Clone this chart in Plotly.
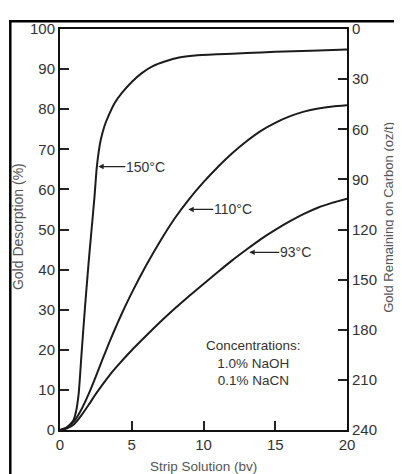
import plotly.graph_objects as go

# ---- data ----
x_150 = [0, 0.35, 0.7, 0.93, 1.1, 1.3, 1.5, 1.75, 2.0, 2.2, 2.4, 2.55, 2.7, 2.85, 3.1, 3.4, 3.8, 4.3, 5.0, 5.7, 6.5, 7.3, 8.3, 9.4, 11, 13, 15, 17.5, 20]
y_150 = [0, 0.3, 1.4, 2.4, 4.3, 9, 19, 31, 42, 50, 58, 65, 69.5, 72.5, 75.8, 78.5, 81.5, 84, 86.8, 89, 90.8, 91.9, 92.9, 93.4, 93.7, 94.0, 94.3, 94.6, 94.9]

x_110 = [0, 0.5, 1.0, 1.5, 2.0, 2.5, 3.0, 3.5, 4.0, 4.5, 5.0, 6.0, 7.0, 8.0, 9.0, 10, 11, 12, 13, 14, 15, 16, 17, 18, 19, 20]
y_110 = [0, 0.7, 2.3, 5.2, 9, 13.4, 18, 22.4, 26.6, 30.5, 34.2, 41, 47.2, 52.8, 57.6, 61.8, 65.6, 69, 72, 74.6, 76.6, 78.2, 79.4, 80.2, 80.7, 81.0]

x_93 = [0, 0.5, 1.0, 1.5, 2.0, 2.5, 3.0, 3.5, 4.0, 5.0, 6.0, 7.0, 8.0, 9.0, 10, 11, 12, 13, 14, 15, 16, 17, 18, 19, 20]
y_93 = [0, 0.4, 1.5, 3.7, 6.3, 9.0, 11.5, 13.9, 16.0, 19.9, 23.5, 27.0, 30.3, 33.4, 36.4, 39.4, 42.3, 45.0, 47.6, 49.9, 52.0, 53.9, 55.5, 56.7, 57.7]

series_names = ["150°C", "110°C", "93°C"]
label_points = [(2.67, 65.7), (8.94, 55.0), (13.19, 44.3)]

x_ticks = [0, 5, 10, 15, 20]
y_ticks = [0, 10, 20, 30, 40, 50, 60, 70, 80, 90, 100]
y2_ticks = [0, 30, 60, 90, 120, 150, 180, 210, 240]

FONT = "Liberation Sans, Arial, sans-serif"
LINE = "#1c1c1c"

fig = go.Figure()
for xs, ys, nm in [(x_150, y_150, series_names[0]), (x_110, y_110, series_names[1]), (x_93, y_93, series_names[2])]:
    fig.add_trace(go.Scatter(x=xs, y=ys, mode="lines", name=nm,
                             line=dict(color=LINE, width=2, shape="spline", smoothing=0.5),
                             showlegend=False, hoverinfo="skip"))
# empty trace so the right-hand axis is drawn
fig.add_trace(go.Scatter(x=[], y=[], yaxis="y2", mode="lines", showlegend=False, hoverinfo="skip"))

# page body adds an 8px offset; work in viewport pixels and convert
OFF = 8
VW, VH = 402, 474
W, H = VW - OFF, VH - OFF
PL, PR, PT, PB = 60, 347, 20, 430      # plot area in viewport pixels
L, R, T, B = PL - OFF, W - (PR - OFF), PT - OFF, H - (PB - OFF)
pw, ph = PR - PL, PB - PT

def px(xp):
    return (xp - PL) / pw

def py(yp):
    return (PB - yp) / ph

axis_common = dict(ticks="inside", ticklen=9, tickwidth=1.5, tickcolor="#222",
                   showline=True, linewidth=2, linecolor="#111",
                   showgrid=False, zeroline=False, tickfont=dict(size=15, color="#333"))

fig.update_layout(
    width=W, height=H,
    margin=dict(l=L, r=R, t=T, b=B),
    paper_bgcolor="white", plot_bgcolor="white",
    font=dict(family=FONT, size=15, color="#333"),
    xaxis=dict(range=[0, 20], tickvals=x_ticks, mirror=True, **axis_common),
    yaxis=dict(range=[0, 100], tickvals=y_ticks, **axis_common),
    yaxis2=dict(range=[240, 0], tickvals=y2_ticks, overlaying="y", side="right", anchor="x",
                **axis_common),
)

# label arrows
for (lx, ly), nm, off in zip(label_points, series_names, [27, 25, 30]):
    fig.add_annotation(x=lx, y=ly, xref="x", yref="y", text=nm, showarrow=True,
                       ax=off, ay=0, xanchor="left", yanchor="middle",
                       arrowhead=2, arrowsize=0.9, arrowwidth=1.2, arrowcolor="#222",
                       borderpad=0, font=dict(size=14, color="#333"))

fig.add_annotation(x=13.45, y=16.8, xref="x", yref="y",
                   text="Concentrations:<br>1.0% NaOH<br>0.1% NaCN",
                   showarrow=False, align="center", font=dict(size=13.5, color="#333"))

# axis titles
fig.add_annotation(x=px(17.5), y=py(222), xref="paper", yref="paper", text="Gold Desorption (%)",
                   textangle=-90, showarrow=False, xanchor="center", yanchor="middle",
                   font=dict(size=14, color="#555"))
fig.add_annotation(x=px(389), y=py(213), xref="paper", yref="paper", text="Gold Remaining on Carbon (oz/t)",
                   textangle=-90, showarrow=False, xanchor="center", yanchor="middle",
                   font=dict(size=13, color="#555"))
fig.add_annotation(x=px(203.5), y=py(467.5), xref="paper", yref="paper", text="Strip Solution (bv)",
                   showarrow=False, xanchor="center", yanchor="middle",
                   font=dict(size=13.5, color="#555"))

# outer frame (left and top edges visible)
fig.add_shape(type="line", xref="paper", yref="paper", x0=px(10.3), x1=px(10.3), y0=py(490), y1=py(12.2),
              line=dict(color="black", width=2.5))
fig.add_shape(type="line", xref="paper", yref="paper", x0=px(9), x1=px(420), y0=py(12.2), y1=py(12.2),
              line=dict(color="black", width=2.5))

fig.write_html("out.html")
